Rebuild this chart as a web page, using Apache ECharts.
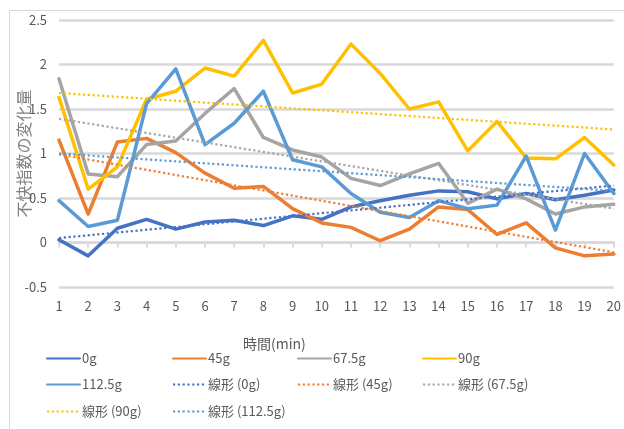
<!DOCTYPE html>
<html>
<head>
<meta charset="utf-8">
<script src="https://cdn.jsdelivr.net/npm/echarts@6/dist/echarts.min.js"></script>
<style>
  html, body { margin: 0; padding: 0; background: #fff; }
  #chart { width: 624px; height: 429px; }
</style>
</head>
<body>
<div id="chart"></div>
<script>
// Time points (min)
const minutes = ['1','2','3','4','5','6','7','8','9','10','11','12','13','14','15','16','17','18','19','20'];

// Change in discomfort index per dose
const g0    = [0.03,-0.15,0.16,0.26,0.15,0.23,0.25,0.19,0.30,0.26,0.40,0.47,0.53,0.58,0.57,0.49,0.55,0.48,0.53,0.59];
const g45   = [1.15,0.32,1.13,1.17,1.01,0.78,0.61,0.63,0.38,0.22,0.17,0.02,0.15,0.40,0.37,0.09,0.22,-0.06,-0.15,-0.13];
const g67_5 = [1.84,0.77,0.74,1.10,1.14,1.45,1.73,1.18,1.04,0.96,0.72,0.64,0.77,0.89,0.44,0.60,0.49,0.32,0.40,0.43];
const g90   = [1.63,0.60,0.85,1.61,1.70,1.96,1.87,2.27,1.68,1.78,2.23,1.90,1.50,1.58,1.03,1.36,0.95,0.94,1.18,0.87];
const g112_5= [0.47,0.18,0.25,1.56,1.95,1.10,1.34,1.70,0.93,0.85,0.55,0.34,0.28,0.47,0.38,0.42,0.97,0.14,1.00,0.55];

// Linear trend lines: values at the first and last time point
const trend0    = [0.05, 0.64];
const trend45   = [0.99, -0.11];
const trend67_5 = [1.39, 0.38];
const trend90   = [1.68, 1.27];
const trend112_5= [1.00, 0.58];

// Axis ticks
const yTicks = { min: -0.5, max: 2.5, interval: 0.5 };

const names = ['0g','45g','67.5g','90g','112.5g'];
const trendNames = ['線形 (0g)','線形 (45g)','線形 (67.5g)','線形 (90g)','線形 (112.5g)'];
const colors = ['#4472C4','#ED7D31','#A5A5A5','#FFC000','#5B9BD5'];
const values = [g0, g45, g67_5, g90, g112_5];
const trends = [trend0, trend45, trend67_5, trend90, trend112_5];

const FONT = '"Noto Sans CJK JP", "Noto Sans", sans-serif';
const TEXT = '#595959';
const GRID = '#D9D9D9';

const series = [];
values.forEach((v, i) => {
  series.push({
    name: names[i], type: 'line', data: v, symbol: 'none',
    lineStyle: { color: colors[i], width: 3.5, cap: 'round', join: 'round' },
    itemStyle: { color: colors[i] },
    emphasis: { disabled: true }, animation: false
  });
});
trends.forEach((t, i) => {
  series.push({
    name: trendNames[i], type: 'line', symbol: 'none',
    data: [[0, t[0]], [minutes.length - 1, t[1]]],
    lineStyle: { color: colors[i], width: 2.2, type: [2.2, 2.6] },
    itemStyle: { color: colors[i] },
    emphasis: { disabled: true }, animation: false
  });
});

// Legend laid out as a 4-column grid, one entry per legend component
const legendOrder = [...names, ...trendNames];
const legendCols = [41, 167, 292, 417];
const legendRows = [347, 373, 400];
const legends = legendOrder.map((name, k) => ({
  data: [name],
  left: legendCols[k % 4], top: legendRows[Math.floor(k / 4)],
  itemWidth: 33, itemHeight: 14, itemGap: 0,
  itemStyle: { opacity: 0 },
  textStyle: { color: TEXT, fontFamily: FONT, fontSize: 13, padding: [0, 0, 0, -3] },
  selectedMode: false
}));

const chart = echarts.init(document.getElementById('chart'), null, { renderer: 'canvas' });
chart.setOption({
  animation: false,
  backgroundColor: '#fff',
  grid: { left: 59, right: 9, top: 20, bottom: 142, containLabel: false },
  xAxis: {
    type: 'category', data: minutes, boundaryGap: false,
    axisLine: { onZero: true, lineStyle: { color: GRID, width: 2.5 } },
    axisTick: { show: true, length: 5, inside: false, lineStyle: { color: GRID, width: 2 } },
    axisLabel: { color: TEXT, fontFamily: FONT, fontSize: 13, margin: 13 },
    splitLine: { show: false }
  },
  yAxis: {
    type: 'value', min: yTicks.min, max: yTicks.max, interval: yTicks.interval,
    axisLine: { show: false }, axisTick: { show: false },
    axisLabel: { color: TEXT, fontFamily: FONT, fontSize: 13, margin: 12 },
    splitLine: { lineStyle: { color: GRID, width: 2.5 } },
    name: '不快指数の変化量', nameLocation: 'middle', nameRotate: 90, nameGap: 27,
    nameMoveOverlap: false,
    nameTextStyle: { color: '#7F7F7F', fontFamily: FONT, fontSize: 16 }
  },
  legend: legends,
  graphic: [
    { type: 'rect', silent: true, z: -1,
      shape: { x: 9.5, y: 10.5, width: 700, height: 500 },
      style: { fill: 'none', stroke: GRID, lineWidth: 1 } },
    { type: 'text', left: 243, top: 337, silent: true,
      style: { text: '時間(min)', fill: TEXT, font: '14px ' + FONT } }
  ],
  series
});
</script>
</body>
</html>
